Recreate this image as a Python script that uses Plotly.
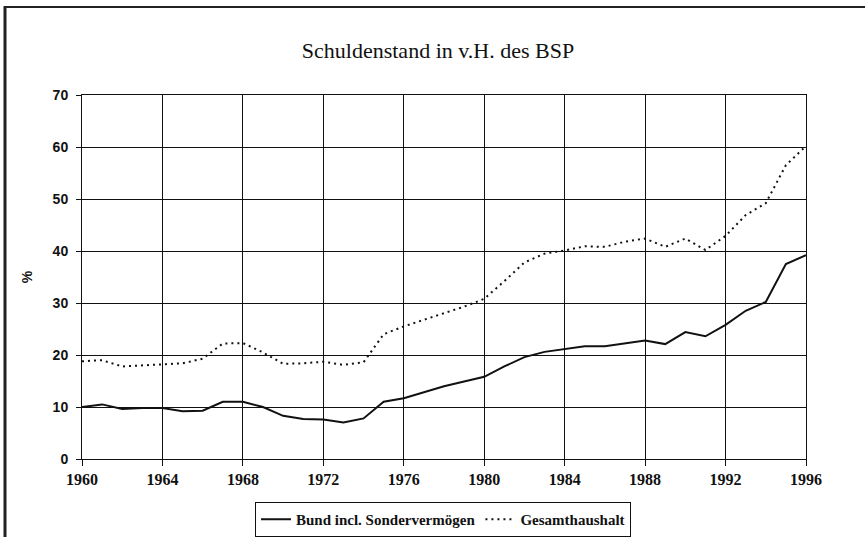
import plotly.graph_objects as go

years = list(range(1960, 1997))
bund = [10.0, 10.5, 9.6, 9.8, 9.8, 9.2, 9.3, 11.0, 11.0, 10.0,
        8.3, 7.7, 7.6, 7.0, 7.8, 11.0, 11.7, 12.8, 14.0, 14.9,
        15.8, 17.8, 19.6, 20.6, 21.1, 21.7, 21.7, 22.3, 22.8, 22.1,
        24.4, 23.6, 25.8, 28.5, 30.2, 37.5, 39.2]
gesamt = [18.8, 19.0, 17.8, 18.0, 18.2, 18.4, 19.3, 22.2, 22.3, 20.5,
          18.3, 18.4, 18.7, 18.1, 18.6, 24.0, 25.5, 26.8, 28.0, 29.3,
          30.8, 34.2, 37.8, 39.5, 40.1, 40.9, 40.8, 41.8, 42.4, 40.8,
          42.4, 40.2, 42.9, 46.9, 49.2, 56.5, 60.2]
x_ticks = list(range(1960, 1997, 4))
y_ticks = [0, 10, 20, 30, 40, 50, 60, 70]

W, H = 865, 537
ml, mr, mt, mb = 82, 59, 95, 78
pw, ph = W - ml - mr, H - mt - mb

def px(x):
    return (x - ml) / pw

def py(y):
    return (H - mb - y) / ph

fig = go.Figure()
fig.add_trace(go.Scatter(x=years, y=bund, mode="lines", name="Bund incl. Sondervermögen",
                         line=dict(color="#111111", width=2)))
fig.add_trace(go.Scatter(x=years, y=gesamt, mode="lines", name="Gesamthaushalt",
                         line=dict(color="#111111", width=2, dash="2px,4px")))

fig.update_layout(
    width=W, height=H,
    margin=dict(l=ml, r=mr, t=mt, b=mb, autoexpand=False),
    paper_bgcolor="white", plot_bgcolor="white",
    title=dict(text="Schuldenstand in v.H. des BSP", x=px(438), xanchor="center",
               xref="paper", y=1 - 50 / H, yanchor="middle",
               font=dict(family="Liberation Serif", size=22, color="#111111")),
    xaxis=dict(range=[1960, 1996], tickvals=x_ticks, ticks="outside", ticklen=6,
               tickcolor="#111111", showgrid=True, gridcolor="#111111", gridwidth=1,
               showline=True, linecolor="#111111", linewidth=1, mirror=True,
               zeroline=False, automargin=False,
               tickfont=dict(family="Liberation Serif", size=16, color="#111111", weight="bold")),
    yaxis=dict(range=[0, 70], tickvals=y_ticks, ticks="outside", ticklen=5,
               tickcolor="#111111", showgrid=True, gridcolor="#111111", gridwidth=1,
               showline=True, linecolor="#111111", linewidth=1, mirror=True,
               zeroline=False, automargin=False, ticklabelstandoff=5,
               title=dict(text="%", standoff=16,
                          font=dict(family="Liberation Sans", size=14, color="#111111", weight="bold")),
               tickfont=dict(family="Liberation Sans", size=14, color="#111111", weight="bold")),
    legend=dict(orientation="h", x=px(443), xanchor="center", y=py(502), yanchor="top",
                bordercolor="#111111", borderwidth=1, bgcolor="white",
                font=dict(family="Liberation Serif", size=15, color="#111111", weight="bold"),
                itemwidth=30, tracegroupgap=0),
    showlegend=True,
)

fig.add_shape(type="line", xref="paper", yref="paper",
              x0=px(4), x1=px(866), y0=py(7), y1=py(7),
              line=dict(color="#222222", width=2), layer="below")
fig.add_shape(type="line", xref="paper", yref="paper",
              x0=px(5), x1=px(5), y0=py(6), y1=py(545),
              line=dict(color="#222222", width=3), layer="below")

fig.write_html("out.html", config={"displayModeBar": False},
               post_script="document.body.style.margin='0';")
